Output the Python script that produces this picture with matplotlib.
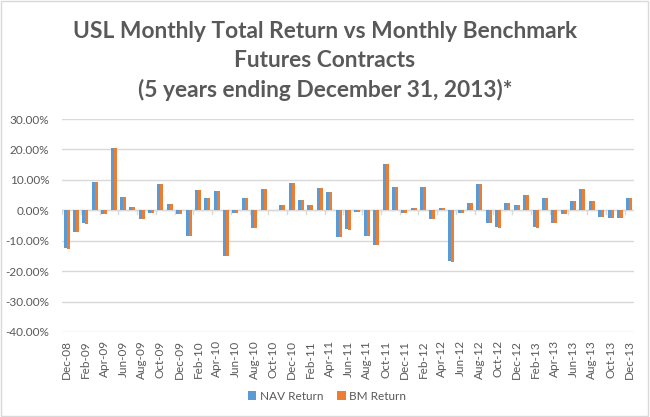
import matplotlib
matplotlib.use("Agg")
import matplotlib.pyplot as plt
import numpy as np
from matplotlib.patches import Rectangle

# monthly returns in %, Dec-08 .. Dec-13
months = ["Dec-08", "Jan-09", "Feb-09", "Mar-09", "Apr-09", "May-09", "Jun-09", "Jul-09",
          "Aug-09", "Sep-09", "Oct-09", "Nov-09", "Dec-09", "Jan-10", "Feb-10", "Mar-10",
          "Apr-10", "May-10", "Jun-10", "Jul-10", "Aug-10", "Sep-10", "Oct-10", "Nov-10",
          "Dec-10", "Jan-11", "Feb-11", "Mar-11", "Apr-11", "May-11", "Jun-11", "Jul-11",
          "Aug-11", "Sep-11", "Oct-11", "Nov-11", "Dec-11", "Jan-12", "Feb-12", "Mar-12",
          "Apr-12", "May-12", "Jun-12", "Jul-12", "Aug-12", "Sep-12", "Oct-12", "Nov-12",
          "Dec-12", "Jan-13", "Feb-13", "Mar-13", "Apr-13", "May-13", "Jun-13", "Jul-13",
          "Aug-13", "Sep-13", "Oct-13", "Nov-13", "Dec-13"]

nav_return = [-12.4, -7.0, -4.3, 9.3, -1.1, 20.4, 4.5, 1.2,
              -2.8, -0.9, 8.5, 2.2, -1.1, -8.4, 6.7, 4.1,
              6.4, -15.0, -1.0, 4.1, -5.8, 6.9, 0.0, 1.9,
              9.1, 3.4, 1.9, 7.3, 5.9, -8.9, -6.3, -0.5,
              -8.4, -11.4, 15.1, 7.7, -0.9, 0.9, 7.7, -3.0,
              0.7, -16.8, -1.0, 2.5, 8.5, -4.2, -5.6, 2.4,
              1.9, 5.0, -5.6, 3.9, -4.1, -1.1, 3.0, 6.9,
              2.9, -2.2, -2.4, -2.4, 4.0]

bm_return = [-12.7, -7.1, -4.4, 9.4, -1.1, 20.4, 4.5, 1.2,
             -2.9, -0.9, 8.5, 2.2, -1.1, -8.5, 6.7, 4.1,
             6.4, -15.1, -1.0, 4.1, -5.9, 6.9, 0.0, 1.9,
             9.1, 3.4, 1.9, 7.3, 5.9, -8.9, -6.4, -0.5,
             -8.5, -11.5, 15.1, 7.7, -0.9, 0.9, 7.7, -3.0,
             0.7, -16.9, -1.0, 2.5, 8.5, -4.3, -5.7, 2.4,
             1.9, 5.0, -5.7, 3.9, -4.2, -1.1, 3.0, 7.0,
             2.9, -2.2, -2.4, -2.4, 4.0]

title = "USL Monthly Total Return vs Monthly Benchmark\nFutures Contracts\n(5 years ending December 31, 2013)*"

plt.rcParams["font.family"] = ["Lato", "DejaVu Sans"]
text_col = "#595959"
grid_col = "#d9d9d9"

fig = plt.figure(figsize=(6.5, 4.17), dpi=100)
ax = fig.add_axes([62 / 650, 1 - 332 / 417, (634 - 62) / 650, (332 - 119) / 417])

x = np.arange(len(months))
w = 0.32
ax.bar(x - w / 2, nav_return, w, color="#5b9bd5", label="NAV Return", zorder=3)
ax.bar(x + w / 2, bm_return, w, color="#ed7d31", label="BM Return", zorder=3)

ax.set_xlim(-0.5, len(months) - 0.5)
ax.set_ylim(-40, 30)
yt = np.arange(-40, 31, 10)
ax.set_yticks(yt)
ax.set_yticklabels([f"{v:.2f}%" for v in yt])
ax.yaxis.grid(True, color=grid_col, lw=1, zorder=0)
ax.axhline(0, color=grid_col, lw=1, zorder=1)

# small category ticks on the zero line
for b in np.arange(-0.5, len(months), 2):
    ax.plot([b, b], [0, -1.1], color=grid_col, lw=1, zorder=1)

ax.set_xticks(x[::2])
ax.set_xticklabels(months[::2], rotation=90)
ax.tick_params(axis="both", length=0, colors=text_col, labelsize=8.5)
ax.tick_params(axis="x", pad=6)
ax.tick_params(axis="y", pad=9)
for s in ax.spines.values():
    s.set_visible(False)

fig.text(0.5, 1 - 61 / 417, title, ha="center", va="center", fontsize=16.4,
         fontweight="bold", color=text_col, linespacing=1.48)

fig.legend(loc="center", bbox_to_anchor=(327 / 650, 1 - 396 / 417), ncol=2, frameon=False,
           fontsize=8.5, labelcolor=text_col, handlelength=0.7, handleheight=0.7,
           handletextpad=0.3, columnspacing=1.2)

fig.patches.append(Rectangle((0.002, 0.003), 0.995, 0.994, transform=fig.transFigure,
                             fill=False, edgecolor=grid_col, lw=1))

fig.savefig("out.png", dpi=100)
